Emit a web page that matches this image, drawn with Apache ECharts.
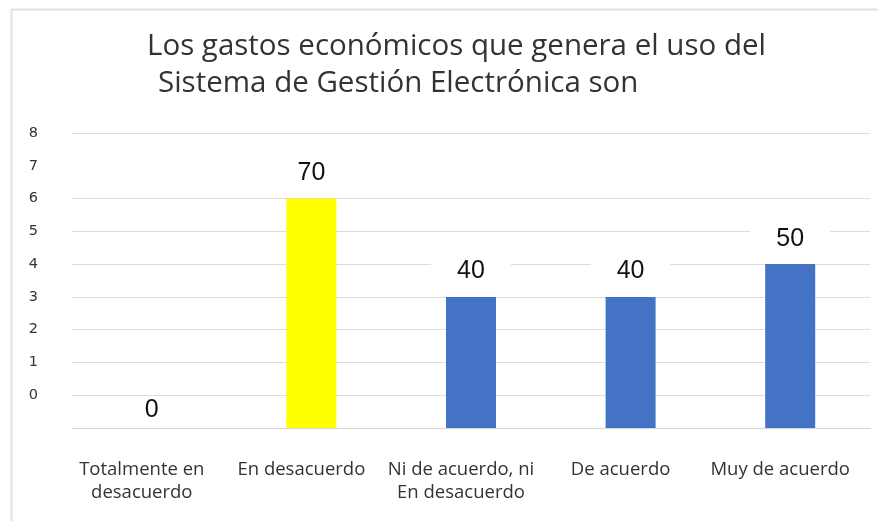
<!DOCTYPE html>
<html>
<head>
<meta charset="utf-8">
<script src="https://cdn.jsdelivr.net/npm/echarts@6/dist/echarts.min.js"></script>
<style>html,body{margin:0;padding:0;background:#fff;}#c{width:878px;height:521px;}</style>
</head>
<body>
<div id="c"></div>
<script>
var titleLine1 = 'Los gastos económicos que genera el uso del';
var titleLine2 = 'Sistema de Gestión Electrónica son';
var categories = ['Totalmente en\ndesacuerdo', 'En desacuerdo', 'Ni de acuerdo, ni\nEn desacuerdo', 'De acuerdo', 'Muy de acuerdo'];
// bar heights in axis steps measured from the baseline
var barValues = [0, 7, 4, 4, 5];
var labelTexts = ['0', '70', '40', '40', '50'];
var tickLabels = ['', '0', '1', '2', '3', '4', '5', '6', '7', '8'];
var barColors = ['#4472C4', '#FFFF00', '#4472C4', '#4472C4', '#4472C4'];

var chart = echarts.init(document.getElementById('c'));
var gridColors = tickLabels.map(function (t, i) { return i === 8 ? 'rgba(0,0,0,0)' : '#dcdcdc'; });
chart.setOption({
  animation: false,
  backgroundColor: '#fff',
  graphic: [{
    type: 'rect', shape: { x: 11.5, y: 9.5, width: 900, height: 600 },
    style: { fill: 'none', stroke: '#e2e2e2', lineWidth: 2 }
  }],
  title: [
    { text: titleLine1, left: 142, top: 27, textStyle: { fontFamily: 'Open Sans', fontSize: 29.5, fontWeight: 'normal', color: '#333' } },
    { text: titleLine2, left: 153, top: 64, textStyle: { fontFamily: 'Open Sans', fontSize: 29.5, fontWeight: 'normal', color: '#333' } }
  ],
  grid: { left: 72, right: 8, top: 133, bottom: 93 },
  xAxis: {
    type: 'category',
    data: categories,
    axisLine: { lineStyle: { color: '#d6d6d6', width: 1 } },
    axisTick: { show: false },
    axisLabel: { margin: 30, fontFamily: 'Open Sans', fontSize: 18.5, color: '#333', lineHeight: 23, interval: 0,
      padding: [0, 20, 0, 0] }
  },
  yAxis: {
    type: 'value', min: 0, max: 9, interval: 1,
    axisLine: { show: false }, axisTick: { show: false },
    axisLabel: { margin: 34, fontFamily: 'DejaVu Sans', fontSize: 14.5, color: '#333',
      formatter: function (v) { return tickLabels[v]; } },
    splitLine: { lineStyle: { color: gridColors, width: 1 } }
  },
  series: [{
    type: 'bar',
    barWidth: 50,
    data: barValues.map(function (v, i) {
      return { value: v, itemStyle: { color: barColors[i] },
        label: i === 0 ? { distance: 4 } : {} };
    }),
    label: {
      show: true, position: 'top', distance: 12,
      fontFamily: 'Liberation Sans', fontSize: 25, color: '#111',
      backgroundColor: '#fff', padding: [1, 26],
      formatter: function (p) { return labelTexts[p.dataIndex]; }
    }
  }]
});
</script>
</body>
</html>
